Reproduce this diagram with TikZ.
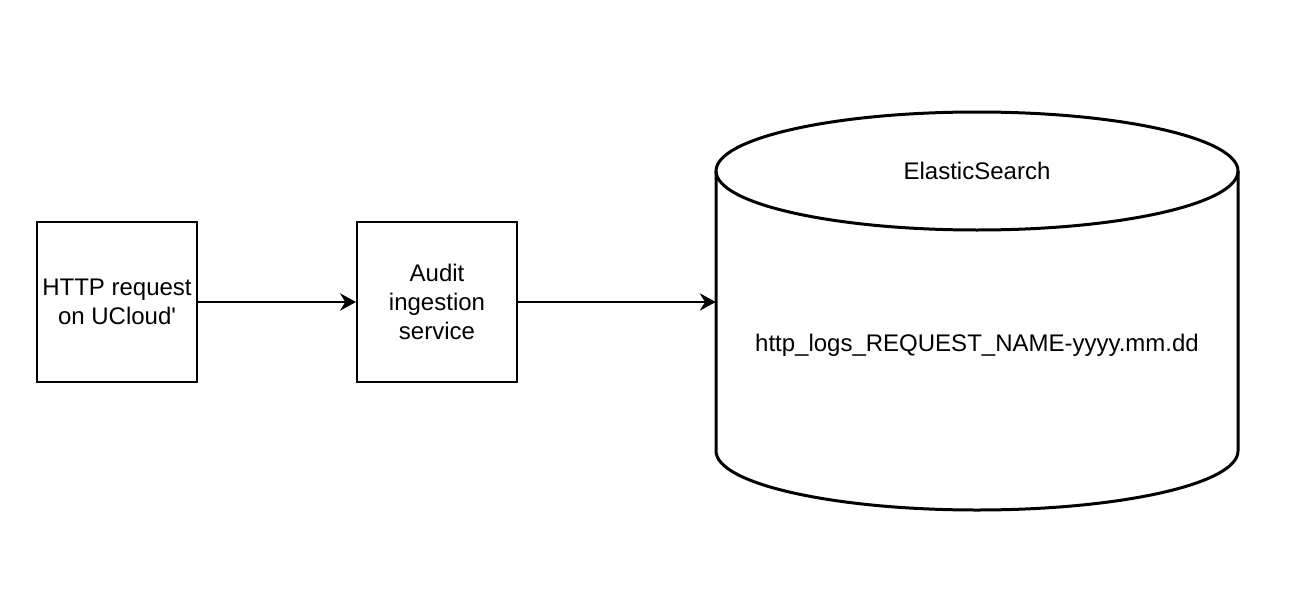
\documentclass[tikz,border=0pt]{standalone}
\usepackage{fontspec}
\setmainfont{Liberation Sans}
\usetikzlibrary{arrows.meta}

\begin{document}
\begin{tikzpicture}[x=0.75pt,y=-0.75pt]
\tikzset{
  every node/.style={inner sep=0pt, font=\fontsize{18}{21.6}\selectfont, align=center},
  stepbox/.style={draw, line width=1.5pt, minimum width=120pt, minimum height=120pt},
  flow/.style={line width=1.5pt, -{Stealth[length=12pt, width=13pt, inset=4pt]}}
}
\useasboundingbox (0,0) rectangle (1310,592);
% boxes
\node [stepbox] (http) at (117,302) {HTTP request\\on UCloud\textquotesingle};
\node [stepbox] (audit) at (437,302) {Audit\\ingestion\\service};
% cylinder
\node [minimum width=391.5pt, minimum height=298.5pt] (es) at (977,311) {};
\draw [line width=2.25pt] (716,171) -- (716,451) arc (180:0:261 and 59) -- (1238,171);
\draw [line width=2.25pt] (977,171) ellipse (261 and 59);
\node (estitle) at (977,171) {ElasticSearch};
\node (esindex) at (977,345) {http\_logs\_REQUEST\_NAME-yyyy.mm.dd};
% arrows
\draw [flow] (http) -- (audit);
\draw [flow] (audit) -- (audit -| es.west);
\end{tikzpicture}
\end{document}
